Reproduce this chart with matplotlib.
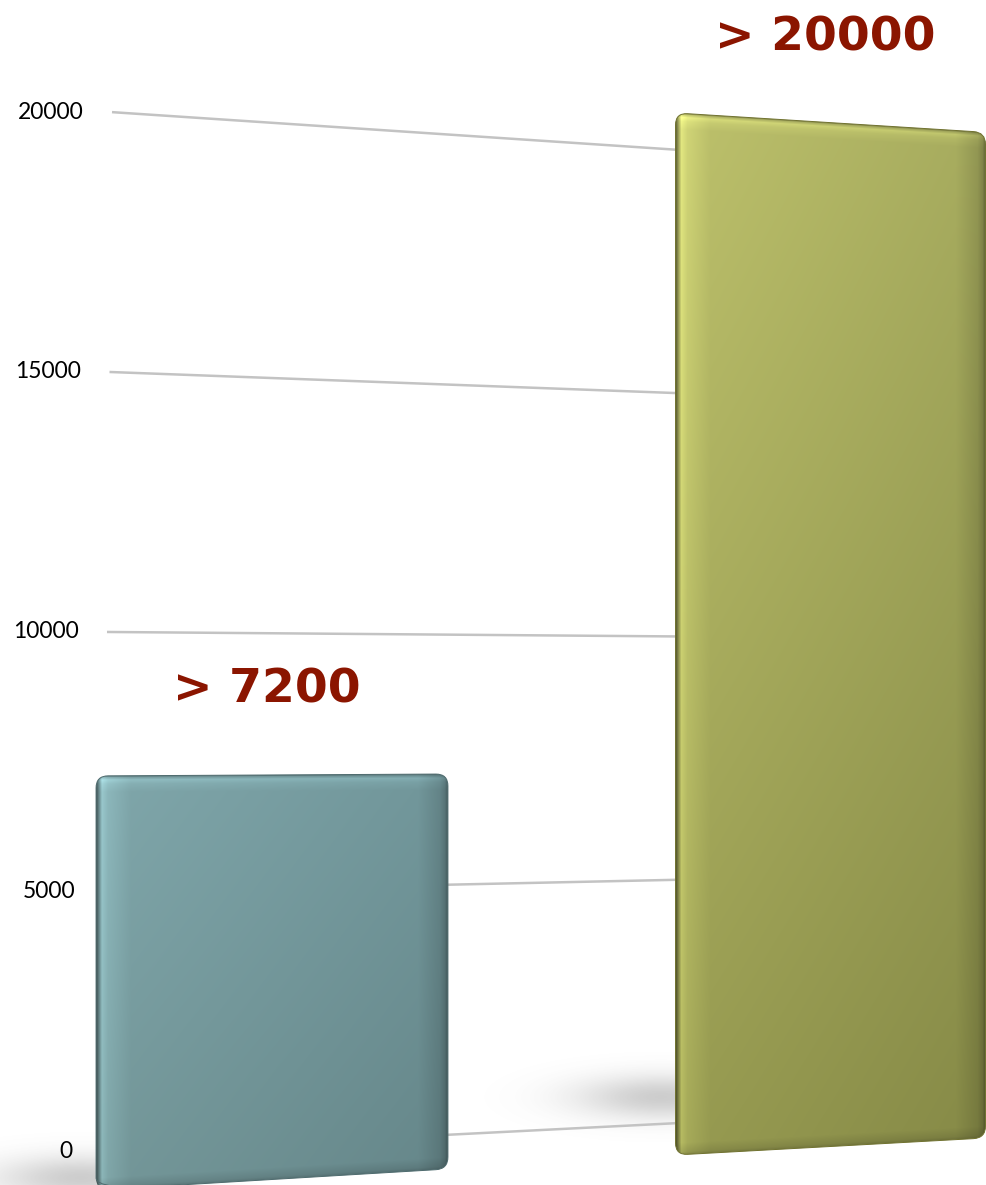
import numpy as np
import matplotlib.pyplot as plt
from matplotlib.path import Path
from matplotlib.patches import PathPatch
from matplotlib.colors import to_rgb

# data
categories = ['Group A', 'Group B']
values = [7200, 20000]
labels = ['> 7200', '> 20000']
ticks = [0, 5000, 10000, 15000, 20000]

# canvas / axis layout
W, H = 986, 1185
X_LEFT, X_RIGHT = -0.487, 1.2784
V_BOTTOM, V_TOP = -635, 22154

# bar geometry (fake 3d): base offset and scale of the value along each bar edge
bar_pos = [0, 1]
bar_width = [0.630, 0.555]
left_edge = [(-731, 1.106), (-58, 1.002)]
right_edge = [(-327, 1.055), (269, 0.967)]
bar_corners = [['#80a7ab', '#71969a', '#749799', '#66878a'],
               ['#bec26c', '#a6ab5e', '#979b51', '#868a47']]
rim_color = ['#4e6b6e', '#70722f']
shadow_offset = [(-15, -12), (-15, -58)]
label_color = '#8b1500'


def to_px(x, v):
    px = (x - X_LEFT) / (X_RIGHT - X_LEFT) * W
    py = (V_TOP - v) / (V_TOP - V_BOTTOM) * H
    return px, py


def to_data(px, py):
    x = X_LEFT + px / W * (X_RIGHT - X_LEFT)
    v = V_TOP - py / H * (V_TOP - V_BOTTOM)
    return x, v


def wall_y(v, x):
    # back wall gridline, receding to the right
    x0, x1 = to_data(110, 0)[0], to_data(680, 0)[0]
    t = (x - x0) / (x1 - x0)
    return v + t * (558 - 0.0644 * v)


def rounded_path(pts, r):
    verts, codes = [], []
    n = len(pts)
    for i in range(n):
        p = np.array(pts[i])
        a = np.array(pts[i - 1]) - p
        b = np.array(pts[(i + 1) % n]) - p
        a = p + a / np.hypot(*a) * r
        b = p + b / np.hypot(*b) * r
        verts += [a, p, b]
        codes += [Path.MOVETO if i == 0 else Path.LINETO, Path.CURVE3, Path.CURVE3]
    verts.append(verts[0])
    codes.append(Path.CLOSEPOLY)
    verts = [to_data(*q) for q in verts]
    return Path(verts, codes)


def shadow(ax, cx, cy, sx, sy, strength):
    xs = np.arange(cx - 3 * sx, cx + 3 * sx)
    ys = np.arange(cy - 3 * sy, cy + 3 * sy)
    X, Y = np.meshgrid(xs, ys)
    a = strength * np.exp(-((X - cx) / sx) ** 2 - ((Y - cy) / sy) ** 2)
    img = np.zeros(X.shape + (4,))
    img[..., :3] = 0.35
    img[..., 3] = a
    x0, v0 = to_data(xs[0], ys[0])
    x1, v1 = to_data(xs[-1], ys[-1])
    ax.imshow(img, extent=(x0, x1, v1, v0), origin='upper', aspect='auto',
              interpolation='bilinear', zorder=1)


fig = plt.figure(figsize=(W / 100, H / 100), dpi=100)
ax = fig.add_axes([0, 0, 1, 1])
ax.set_xlim(X_LEFT, X_RIGHT)
ax.set_ylim(V_BOTTOM, V_TOP)
ax.axis('off')

# gridlines and tick labels
for v in ticks:
    xs = np.array([to_data(102 + 10 * v / 20000, 0)[0], to_data(860, 0)[0]])
    ax.plot(xs, wall_y(v, xs), color='#c3c3c3', lw=1.8, zorder=2,
            solid_capstyle='butt')
    ax.text(to_data(73 + 11 * v / 20000, 0)[0], v, str(v), ha='right',
            va='center', fontsize=16.5, family='Lato', color='black')

# bars
for i, (pos, val) in enumerate(zip(bar_pos, values)):
    xl, xr = pos - bar_width[i] / 2, pos + bar_width[i] / 2
    tl = to_px(xl, left_edge[i][0] + left_edge[i][1] * val)
    tr = to_px(xr, right_edge[i][0] + right_edge[i][1] * val)
    br = to_px(xr, right_edge[i][0])
    bl = to_px(xl, left_edge[i][0])

    # soft floor shadow to the left of the bar
    shadow(ax, bl[0] + shadow_offset[i][0], bl[1] + shadow_offset[i][1],
           85, 22, 0.3)

    c0 = int(np.floor(tl[0])); c1 = int(np.ceil(tr[0]))
    r0 = int(np.floor(min(tl[1], tr[1]))); r1 = int(np.ceil(max(bl[1], br[1])))
    X, Y = np.meshgrid(np.arange(c0, c1) + 0.5, np.arange(r0, r1) + 0.5)
    t = np.clip((X - tl[0]) / (tr[0] - tl[0]), 0, 1)
    ytop = tl[1] + t * (tr[1] - tl[1])
    ybot = bl[1] + t * (br[1] - bl[1])
    w = np.clip((Y - ytop) / (ybot - ytop), 0, 1)
    cTL, cTR, cBL, cBR = [np.array(to_rgb(c)) for c in bar_corners[i]]
    t3, w3 = t[..., None], w[..., None]
    col = ((1 - t3) * (1 - w3) * cTL + t3 * (1 - w3) * cTR
           + (1 - t3) * w3 * cBL + t3 * w3 * cBR)
    d_left = X - tl[0]
    d_right = tr[0] - X
    d_top = Y - ytop
    d_bot = ybot - Y
    f = np.interp(d_left, [0, 2, 6, 12, 35], [0.45, 0.7, 1.2, 1.1, 1.0])
    f *= np.interp(d_right, [0, 3, 8, 30], [0.6, 0.78, 0.88, 1.0])
    f *= np.interp(d_top, [0, 1.5, 4, 8, 16], [0.7, 0.95, 1.14, 1.06, 1.0])
    f *= np.interp(d_bot, [0, 3, 12], [0.8, 0.9, 1.0])
    img = np.clip(col * f[..., None], 0, 1)

    x0, v0 = to_data(c0, r0)
    x1, v1 = to_data(c1, r1)
    im = ax.imshow(img, extent=(x0, x1, v1, v0), origin='upper', aspect='auto',
                   interpolation='bilinear', zorder=3)
    patch = PathPatch(rounded_path([tl, tr, br, bl], 12), transform=ax.transData,
                      facecolor='none', edgecolor=rim_color[i], lw=0.7, zorder=4)
    ax.add_patch(patch)
    im.set_clip_path(patch)

    top_mid = (left_edge[i][0] + left_edge[i][1] * val
               + right_edge[i][0] + right_edge[i][1] * val) / 2
    ax.annotate(labels[i], xy=(pos, top_mid), xytext=(-4, 52),
                textcoords='offset points', ha='center', va='baseline',
                fontsize=34, fontweight='bold', family='DejaVu Sans',
                color=label_color)

fig.savefig('out.png', dpi=100)
